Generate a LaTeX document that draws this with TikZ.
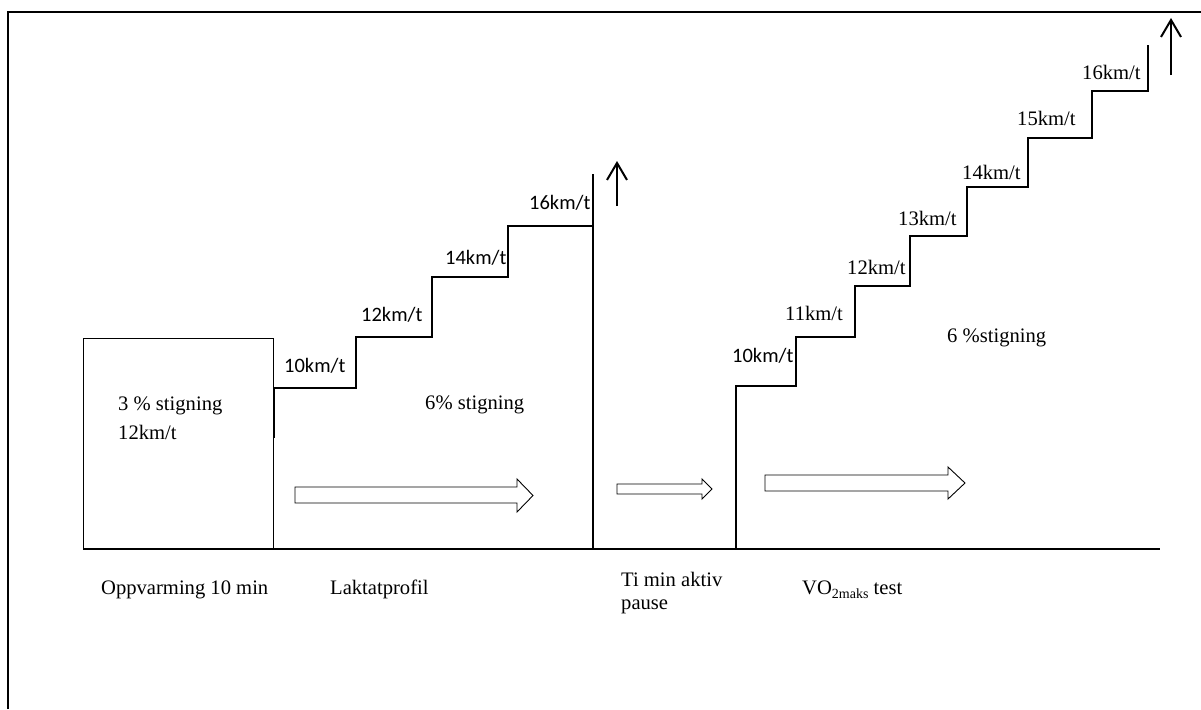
\documentclass[tikz,border=0pt]{standalone}
\usepackage{fontspec}
\setmainfont{Liberation Serif}
\newfontfamily\calib{Carlito}
\usetikzlibrary{arrows.meta}

\begin{document}
\begin{tikzpicture}[x=1pt,y=-1pt,
  serif/.style={font=\fontsize{20.6}{23}\selectfont, inner sep=0pt, anchor=base west},
  sans/.style={font=\calib\fontsize{20.5}{24}\selectfont, inner sep=0pt, anchor=base west},
  frameline/.style={line width=2pt},
  stair/.style={line width=2pt},
  axis/.style={line width=2.4pt},
  blockarrow/.style={draw, line width=0.9pt, fill=white, line join=miter},
  uparrow/.style={line width=2pt, -{Straight Barb[length=17pt, width=20pt, line width=2pt]}}]
\useasboundingbox (0,0) rectangle (1201,709);

% page frame (top and left edges)
\draw[frameline] (8,709) -- (8,12) -- (1201,12);

% time axis
\coordinate (ax0) at (83,549);
\coordinate (ax1) at (1160,549);
\draw[axis] (ax0) -- (ax1);

% warm-up block
\node[draw, line width=1pt, minimum width=190pt, minimum height=211pt, inner sep=0pt]
  (warm) at (178,443.5) {};
\node[serif] (warmA) at (118,410) {3 \% stigning};
\node[serif] (warmB) at (118,439) {12km/t};

% lactate profile staircase
\draw[stair] (274,438) -- (274,388) -- (356,388) -- (356,337) -- (432,337)
  -- (432,277) -- (508,277) -- (508,226) -- (593,226);
\draw[axis] (593,549) -- (593,174);
\node[sans] (l10) at (284,372) {10km/t};
\node[sans] (l12) at (361,321) {12km/t};
\node[sans] (l14) at (445,264) {14km/t};
\node[sans] (l16) at (529,209) {16km/t};
\node[serif] (lgrade) at (425,409) {6\% stigning};
\coordinate (la0) at (617,206);
\coordinate (la1) at (617,161);
\draw[uparrow] (la0) -- (la1);

% VO2max staircase
\draw[stair] (736,549) -- (736,386) -- (796,386) -- (796,337) -- (855,337)
  -- (855,286) -- (910,286) -- (910,236) -- (967,236) -- (967,187)
  -- (1028,187) -- (1028,138) -- (1092,138) -- (1092,91) -- (1148,91)
  -- (1148,45);
\node[sans] (v10) at (732,362) {10km/t};
\node[serif] (v11) at (785,320) {11km/t};
\node[serif] (v12) at (847,274) {12km/t};
\node[serif] (v13) at (898,225) {13km/t};
\node[serif] (v14) at (962,179) {14km/t};
\node[serif] (v15) at (1017,125) {15km/t};
\node[serif] (v16) at (1082,79) {16km/t};
\node[serif] (vgrade) at (947,342) {6 \%stigning};
\coordinate (va0) at (1171,75);
\coordinate (va1) at (1171,18);
\draw[uparrow] (va0) -- (va1);

% direction arrows
\draw[blockarrow] (295,487) -- (517,487) -- (517,479) -- (533,495.5)
  -- (517,512) -- (517,503) -- (295,503) -- cycle;
\draw[blockarrow] (617,484) -- (702,484) -- (702,479) -- (712,489)
  -- (702,499) -- (702,494) -- (617,494) -- cycle;
\draw[blockarrow] (765,475) -- (948,475) -- (948,467) -- (965,483)
  -- (948,499) -- (948,491) -- (765,491) -- cycle;

% phase labels
\node[serif] (p1) at (101,594) {Oppvarming 10 min};
\node[serif] (p2) at (330,594) {Laktatprofil};
\node[serif] (p3) at (621,586) {Ti min aktiv};
\node[serif] (p3b) at (621,609) {pause};
\node[serif] (p4) at (802,594)
  {VO\raisebox{-4pt}{\fontsize{14}{16}\selectfont 2maks} test};
\end{tikzpicture}
\end{document}
